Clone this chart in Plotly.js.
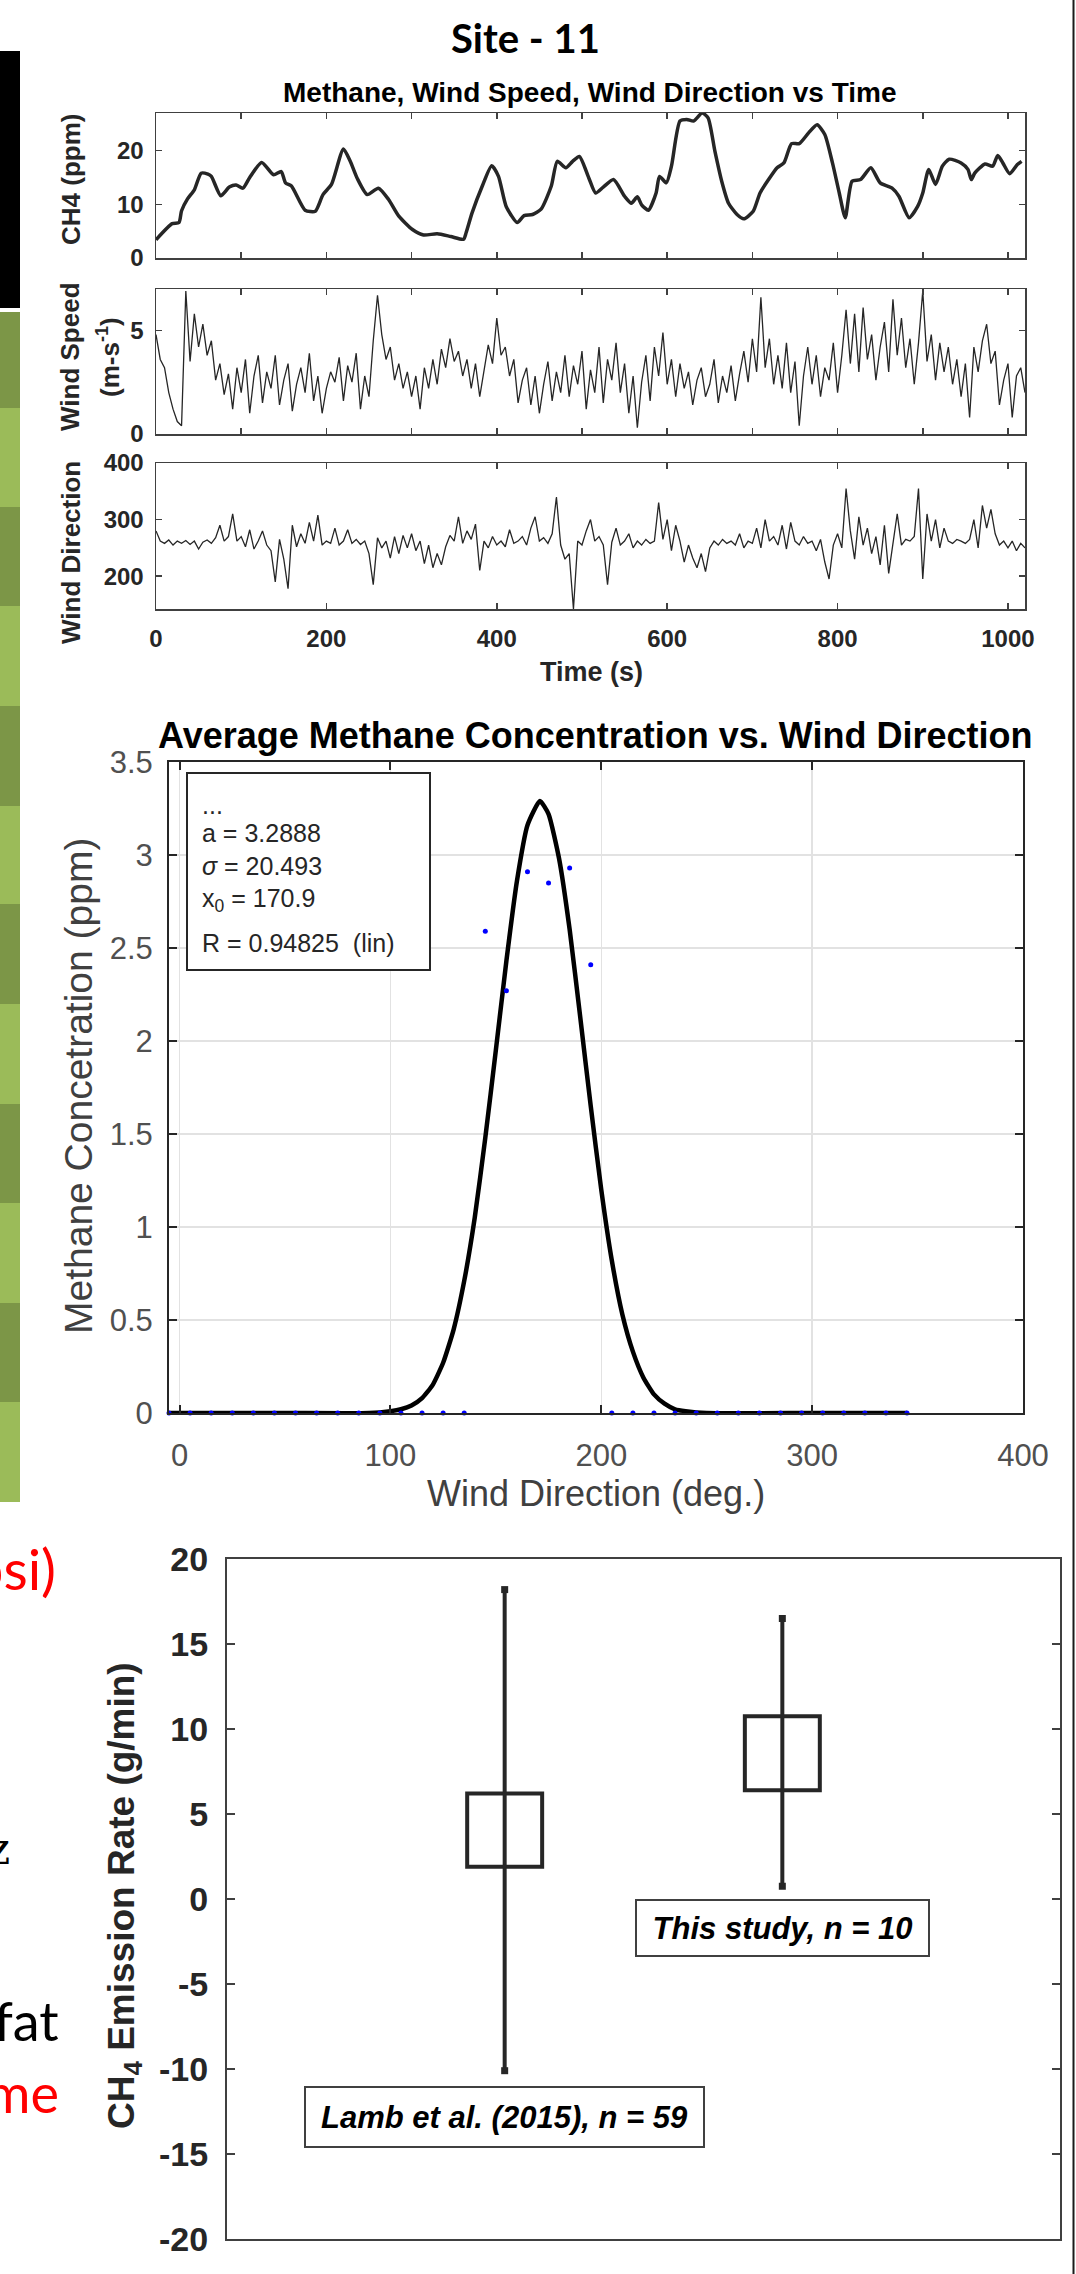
<!DOCTYPE html>
<html><head><meta charset="utf-8">
<script src="https://cdn.plot.ly/plotly-3.0.1.min.js"></script>
<style>html,body{margin:0;padding:0;background:#fff;}#chart{width:1076px;height:2274px;}</style>
</head><body><div id="chart"></div>
<script>
// ---------------- DATA ----------------
// Methane vs time (s, ppm)
const chTime = [0,19,27,30,37,45,53,61,65,76,86,94,102,110,124,138,147,152,159,175,187,196,206,220,228,236,248,261,273,285,301,314,330,346,361,364,371,383,394,402,411,424,432,442,452,464,471,481,489,497,508,516,525,537,550,558,565,570,578,587,591,599,605,615,623,631,641,648,656,664,672,682,690,701,709,719,729,737,746,755,766,776,785,794,802,809,817,827,839,850,864,872,884,894,900,907,915,923,931,945,953,957,961,973,982,988,994,1002,1011,1016];
const chValue = [3.4,6.4,6.6,8.8,11.0,12.7,15.8,15.6,15.2,11.6,13.2,13.6,13.0,15.0,17.8,15.5,16.1,14.0,13.4,8.9,8.7,11.8,13.7,20.3,18.0,14.9,11.8,13.0,10.9,7.8,5.3,4.3,4.5,4.0,3.5,4.7,8.4,13.4,17.2,15.2,9.6,6.6,7.9,8.1,9.1,13.4,18.0,16.8,18.0,18.9,14.9,12.1,13.2,14.6,11.5,10.2,11.4,9.9,8.9,12.1,15.2,14.0,17.1,25.5,25.8,25.5,27.0,26.1,19.9,14.3,10.2,8.1,7.3,8.7,12.1,14.6,16.8,17.7,21.3,21.3,23.3,24.8,23.0,17.7,12.1,7.5,14.3,14.6,16.8,14.0,13.0,11.5,7.5,9.6,12.1,16.5,13.7,17.1,18.4,17.7,16.5,14.6,15.8,17.5,17.1,19.1,17.7,15.7,17.4,18.0];

// Wind speed (m/s), one reading every 5 s from t = 0
const windSpeed = [4.8,3.6,3.2,2.0,1.2,0.6,0.4,6.9,3.5,5.8,4.2,5.3,3.8,4.5,2.6,3.4,1.9,2.9,1.2,3.2,2.0,3.6,1.0,2.8,3.8,1.5,3.0,2.2,3.8,1.4,2.6,3.4,1.1,2.4,3.2,2.0,3.9,1.6,2.8,1.0,2.2,3.0,2.5,3.7,1.6,3.3,2.5,3.9,1.2,2.8,1.8,4.5,6.7,4.8,3.6,4.2,2.6,3.4,2.2,3.0,1.8,2.8,1.2,3.2,2.2,3.6,2.4,4.1,3.2,4.6,3.5,4.0,2.8,3.6,2.2,3.4,1.8,3.0,4.3,3.4,5.6,3.8,4.2,2.8,3.6,1.5,2.6,3.2,1.4,2.8,1.0,2.4,3.5,1.6,3.0,2.0,3.8,1.8,3.3,2.4,4.0,1.2,3.1,2.0,4.2,1.5,3.6,2.6,4.4,2.0,3.4,1.0,2.8,0.3,2.5,3.8,1.6,4.2,2.8,4.9,2.4,3.6,1.8,3.4,2.2,3.0,1.4,2.6,3.2,1.8,2.4,3.6,1.5,2.8,2.0,3.3,1.6,2.9,4.0,2.5,4.6,3.0,6.6,3.2,4.6,2.4,3.8,2.2,4.4,2.0,3.5,0.4,2.8,4.2,2.4,3.8,1.8,3.2,2.6,4.4,2.0,3.8,6.0,3.4,5.8,3.0,6.1,3.6,4.8,2.6,4.2,5.4,3.0,6.5,3.8,5.6,3.2,4.6,2.4,4.4,6.9,3.5,4.8,2.6,4.4,3.0,4.2,2.4,3.6,1.8,3.4,0.8,4.2,3.0,4.5,5.3,3.4,4.0,1.4,2.6,3.4,0.8,2.8,3.2,2.0];

// Wind direction (deg), one reading every 5 s from t = 0
const windDir = [280,262,258,264,255,262,258,263,256,262,248,260,264,258,268,290,262,270,310,262,270,252,282,248,262,280,255,245,190,265,230,178,290,252,275,258,295,262,308,255,262,258,285,255,262,282,258,265,256,262,240,185,268,250,262,232,270,240,272,250,275,245,262,222,255,215,240,220,252,272,262,305,258,280,265,292,210,262,250,270,255,262,252,282,258,262,270,255,285,305,262,268,258,275,340,255,230,240,142,262,255,280,300,262,270,255,185,260,285,255,262,275,250,262,255,265,258,262,330,265,300,245,290,262,225,255,232,215,240,208,250,262,255,265,258,262,255,275,250,262,258,285,250,300,262,270,255,290,248,295,262,255,270,258,262,245,265,225,195,255,275,250,355,280,230,305,255,285,240,270,220,290,205,262,310,255,265,262,270,355,195,310,262,300,250,285,262,258,265,262,258,265,300,250,325,285,318,275,255,262,250,262,245,258,250];

// Average methane concentration vs wind direction (10-degree bins)
const binDir = [-5,5,15,25,35,45,55,65,75,85,95,105,115,125,135,145,155,165,175,185,195,205,215,225,235,245,255,265,275,285,295,305,315,325,335,345];
const binConc = [0,0,0,0,0,0,0,0,0,0,0,0,0,0,0,2.59,2.27,2.91,2.85,2.93,2.41,0,0,0,0,0,0,0,0,0,0,0,0,0,0,0];
// Fitted curve
const fitDir = [-5,50,90,100,105,110,115,120,125,130,135,140,145,150,155,160,165,170.9,175,180,185,190,195,200,205,210,215,220,225,230,235,240,250,300,345];
const fitConc = [0,0,0,0.01,0.02,0.04,0.08,0.15,0.27,0.45,0.71,1.05,1.48,1.95,2.43,2.86,3.16,3.29,3.22,2.98,2.60,2.13,1.65,1.20,0.82,0.53,0.33,0.19,0.10,0.05,0.02,0.01,0,0,0];
const fitText = ['...','a = 3.2888','<i>σ</i> = 20.493','x<sub>0</sub> = 170.9','R = 0.94825\u00a0\u00a0(lin)'];

// Emission rate comparison (g/min)
const groups = ['Lamb et al. (2015), n = 59','This study, n = 10'];
const groupPos = [1,2];
const whiskerLow = [-10.1,0.75];
const boxLow = [1.9,6.4];
const boxHigh = [6.2,10.75];
const whiskerHigh = [18.2,16.5];
const rateTicks = [-20,-15,-10,-5,0,5,10,15,20];
const rateTickText = ['-20','-15','-10','-5','0','5','10','15','20'];

// ---------------- LAYOUT HELPERS ----------------
const W = 1076, H = 2274;
const dx = (a,b) => [a/W, b/W];
const dy = (top,bottom) => [1-bottom/H, 1-top/H];
const ARIAL = 'Liberation Sans, Arial, sans-serif';
const CAL = 'Lato, Calibri, sans-serif';
function ann(text,x,y,o){return Object.assign({text:text,x:x/W,y:1-y/H,xref:'paper',yref:'paper',showarrow:false,xanchor:'center',yanchor:'middle'},o||{});}

const topAx = {showline:true,linecolor:'#404040',linewidth:1.5,mirror:'ticks',ticks:'inside',ticklen:6,tickwidth:1.5,tickcolor:'#404040',showgrid:false,zeroline:false,tickfont:{family:ARIAL,size:24,color:'#262626',weight:700}};
const midAx = {showline:true,linecolor:'#262626',linewidth:2,mirror:'ticks',ticks:'inside',ticklen:8,tickwidth:2,tickcolor:'#262626',showgrid:true,gridcolor:'#e2e2e2',gridwidth:1.5,zeroline:false,tickfont:{family:ARIAL,size:31,color:'#505050'}};
const botAx = {showline:true,linecolor:'#404040',linewidth:2,mirror:'ticks',ticks:'inside',ticklen:8,tickwidth:2,tickcolor:'#404040',showgrid:false,zeroline:false,tickfont:{family:ARIAL,size:34,color:'#262626',weight:700}};

const traces = [
 {type:'scatter',mode:'lines',x:chTime,y:chValue,xaxis:'x',yaxis:'y',line:{color:'#262626',width:3.5,shape:'spline',smoothing:0.6},hoverinfo:'skip'},
 {type:'scatter',mode:'lines',x0:0,dx:5,y:windSpeed,xaxis:'x2',yaxis:'y2',line:{color:'#262626',width:1.3},hoverinfo:'skip'},
 {type:'scatter',mode:'lines',x0:0,dx:5,y:windDir,xaxis:'x3',yaxis:'y3',line:{color:'#262626',width:1.3},hoverinfo:'skip'},
 {type:'scatter',mode:'lines',x:fitDir,y:fitConc,xaxis:'x4',yaxis:'y4',line:{color:'#000',width:4.5,shape:'spline',smoothing:0.5},cliponaxis:false,hoverinfo:'skip'},
 {type:'scatter',mode:'markers',x:binDir,y:binConc,xaxis:'x4',yaxis:'y4',marker:{color:'#0000ff',size:5},cliponaxis:false,hoverinfo:'skip'},
 {type:'bar',x:groupPos,base:boxLow,y:boxHigh.map((h,i)=>h-boxLow[i]),width:0.27,xaxis:'x5',yaxis:'y5',marker:{color:'#ffffff',line:{color:'#262626',width:4}},hoverinfo:'skip'}
];
groupPos.forEach((p,i)=>{
 traces.push({type:'scatter',mode:'lines+markers',x:[p,p],y:[whiskerLow[i],whiskerHigh[i]],xaxis:'x5',yaxis:'y5',line:{color:'#262626',width:4},marker:{symbol:'square',size:7,color:'#262626'},hoverinfo:'skip'});
});

const shapes = [
 {type:'rect',xref:'paper',yref:'paper',x0:0,x1:20/W,y0:1-308/H,y1:1-51/H,fillcolor:'#000',line:{width:0},layer:'below'},
 {type:'line',xref:'paper',yref:'paper',x0:1073.5/W,x1:1073.5/W,y0:0,y1:1,line:{color:'#1a1a1a',width:2}},
 {type:'rect',xref:'paper',yref:'paper',x0:187/W,x1:430/W,y0:1-970/H,y1:1-773/H,fillcolor:'#fff',line:{color:'#262626',width:2},layer:'above'}
];
const stripeEdges = [312,408,507,606,706,806,904,1004,1104,1203,1303,1402,1502];
for(let i=0;i<stripeEdges.length-1;i++){
 shapes.push({type:'rect',xref:'paper',yref:'paper',x0:0,x1:20/W,y0:1-stripeEdges[i+1]/H,y1:1-stripeEdges[i]/H,fillcolor:(i%2===0)?'#7c9647':'#9bbb59',line:{width:0},layer:'below'});
}

const annotations = [
 ann('Site - 11',525,38,{font:{family:CAL,size:40,color:'#000',weight:700}}),
 ann('Methane, Wind Speed, Wind Direction vs Time',590,92,{font:{family:ARIAL,size:28,color:'#000',weight:700}}),
 ann('CH4 (ppm)',71,180,{textangle:-90,font:{family:ARIAL,size:26,color:'#262626',weight:700}}),
 ann('Wind Speed',70,357,{textangle:-90,font:{family:ARIAL,size:26,color:'#262626',weight:700}}),
 ann('(m-s<sup>-1</sup>)',108,357,{textangle:-90,font:{family:ARIAL,size:26,color:'#262626',weight:700}}),
 ann('Wind Direction',71,553,{textangle:-90,font:{family:ARIAL,size:26,color:'#262626',weight:700}}),
 ann('Time (s)',591,672,{font:{family:ARIAL,size:27,color:'#262626',weight:700}}),
 ann('Average Methane Concentration vs. Wind Direction',595,735,{font:{family:ARIAL,size:36,color:'#000',weight:700}}),
 ann('Methane Concetration (ppm)',78,1086,{textangle:-90,font:{family:ARIAL,size:39,color:'#404040'}}),
 ann('Wind Direction (deg.)',596,1493,{font:{family:ARIAL,size:36,color:'#404040'}}),
 ann('CH<sub>4</sub> Emission Rate (g/min)',124,1896,{textangle:-90,font:{family:ARIAL,size:37,color:'#262626',weight:700}}),
 {text:groups[0],x:groupPos[0],y:-12.8,xref:'x5',yref:'y5',showarrow:false,width:395,height:56,bgcolor:'#fff',bordercolor:'#404040',borderwidth:2,font:{family:ARIAL,size:31,color:'#000',weight:700,style:'italic'}},
 {text:groups[1],x:groupPos[1],y:-1.7,xref:'x5',yref:'y5',showarrow:false,width:289,height:52,bgcolor:'#fff',bordercolor:'#404040',borderwidth:2,font:{family:ARIAL,size:31,color:'#000',weight:700,style:'italic'}},
 ann('psi)',58,1568,{xanchor:'right',font:{family:CAL,size:56,color:'#ff0000'}}),
 ann('z',12,1848,{xanchor:'right',font:{family:'DejaVu Serif, serif',size:44,color:'#000'}}),
 ann('fat',61,2020,{xanchor:'right',font:{family:CAL,size:54,color:'#000'}}),
 ann('me',61,2092,{xanchor:'right',font:{family:CAL,size:54,color:'#ff0000'}})
];
const fitY = [805,833,866,900,943];
fitText.forEach((t,i)=>annotations.push(ann(t,200,fitY[i],{xanchor:'left',font:{family:ARIAL,size:25,color:'#262626'}})));

const layout = {
 width:W,height:H,margin:{l:0,r:0,t:0,b:0},paper_bgcolor:'#fff',plot_bgcolor:'#fff',showlegend:false,
 xaxis:Object.assign({},topAx,{domain:dx(156,1025),anchor:'y',range:[0,1020],dtick:100,showticklabels:false}),
 yaxis:Object.assign({},topAx,{domain:dy(113,258),anchor:'x',range:[0,27],dtick:10,ticklabelstandoff:6}),
 xaxis2:Object.assign({},topAx,{domain:dx(156,1025),anchor:'y2',range:[0,1020],dtick:100,showticklabels:false}),
 yaxis2:Object.assign({},topAx,{domain:dy(289,434),anchor:'x2',range:[0,7],dtick:5,ticklabelstandoff:6}),
 xaxis3:Object.assign({},topAx,{domain:dx(156,1025),anchor:'y3',range:[0,1020],dtick:200,ticklabelstandoff:8}),
 yaxis3:Object.assign({},topAx,{domain:dy(463,609),anchor:'x3',range:[142,400],tickvals:[200,300,400],ticklabelstandoff:6}),
 xaxis4:Object.assign({},midAx,{domain:dx(169,1023),anchor:'y4',range:[-5,400],dtick:100,ticklabelstandoff:14}),
 yaxis4:Object.assign({},midAx,{domain:dy(762,1413),anchor:'x4',range:[0,3.5],dtick:0.5,ticklabelstandoff:8}),
 xaxis5:Object.assign({},botAx,{domain:dx(227,1060),anchor:'y5',range:[0,3],ticks:'',showticklabels:false}),
 yaxis5:Object.assign({},botAx,{domain:dy(1559,2239),anchor:'x5',range:[-20,20],tickvals:rateTicks,ticktext:rateTickText,ticklabelstandoff:10}),
 shapes:shapes,annotations:annotations
};
Plotly.newPlot('chart',traces,layout,{displayModeBar:false,staticPlot:true});
</script></body></html>
